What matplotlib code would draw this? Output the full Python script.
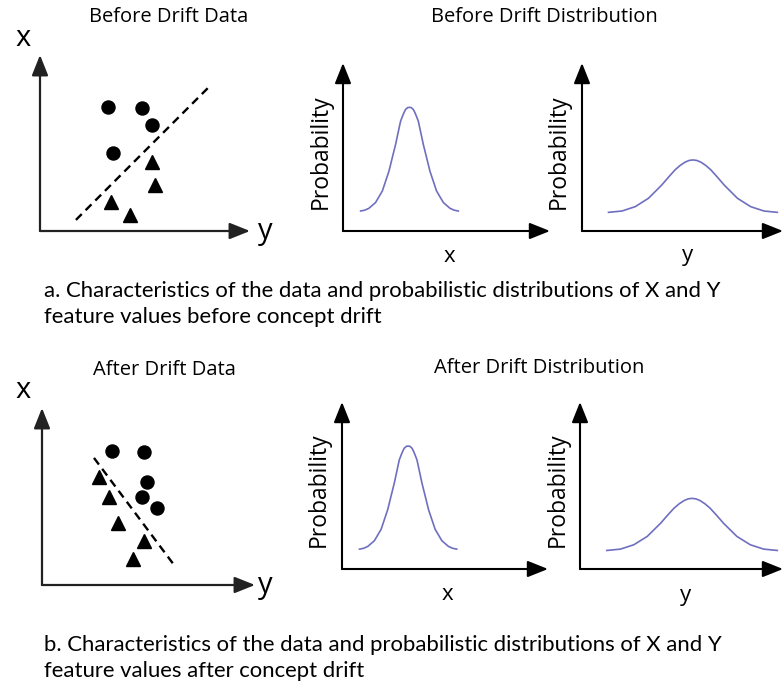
import numpy as np
import matplotlib
matplotlib.use("Agg")
import matplotlib.pyplot as plt

W, H = 783, 681

# scatter panels, axis units 0..100 (100 = arrow tip)
before_circ_x = [32.4, 48.6, 53.3, 34.8]
before_circ_y = [70.5, 69.9, 60.2, 44.3]
before_tri_x = [53.3, 54.8, 33.8, 42.9]
before_tri_y = [39.2, 26.1, 16.5, 9.1]
before_split_x = [17.1, 80.0]
before_split_y = [6.3, 81.3]

after_circ_x = [32.9, 47.9, 49.3, 46.9, 54.0]
after_circ_y = [75.7, 75.1, 58.2, 49.7, 43.5]
after_tri_x = [26.8, 31.5, 35.7, 47.9, 42.7]
after_tri_y = [61.0, 49.7, 35.0, 24.9, 14.7]
after_split_x = [24.4, 62.0]
after_split_y = [71.8, 11.3]

# distribution curves (same before and after)
px_x = [8.5, 10.5, 12.5, 15.7, 19.0, 22.2, 23.8, 25.4, 26.7, 27.8, 28.6,
        29.4, 30.2, 31.3, 32.1, 32.9, 34.0, 34.8, 35.6, 36.4, 37.5, 38.8,
        40.4, 42.0, 45.2, 48.5, 51.7, 53.7, 55.7]
px_y = [11.9, 12.4, 13.5, 16.9, 23.8, 35.6, 43.6, 51.5, 59.0, 65.3, 67.9,
        70.3, 72.3, 73.5, 73.6, 73.5, 72.3, 70.3, 67.9, 65.3, 59.0, 51.5,
        43.6, 35.6, 23.8, 16.9, 13.5, 12.4, 11.9]
py_x = [13.2, 19.9, 26.5, 33.1, 39.7, 43.0, 46.3, 48.8, 51.3, 53.3, 55.2,
        57.1, 59.1, 61.6, 64.1, 67.4, 70.7, 77.3, 83.9, 90.5, 97.2]
py_y = [11.1, 11.9, 14.5, 19.5, 27.4, 32.0, 36.4, 39.0, 41.0, 42.0, 42.3,
        42.0, 41.0, 39.0, 36.4, 32.0, 27.4, 19.5, 14.5, 11.9, 11.1]

caption_a = ["a. Characteristics of the data and probabilistic distributions of X and Y",
             "feature values before concept drift"]
caption_b = ["b. Characteristics of the data and probabilistic distributions of X and Y",
             "feature values after concept drift"]

curve_color = "#6f6fc0"
sans = ["Open Sans", "DejaVu Sans"]
cap_font = ["Lato", "DejaVu Sans"]

fig = plt.figure(figsize=(W / 100, H / 100), dpi=100)


def px_axes(x0, y0, x1, y1):
    # x0,y0 = origin in image pixels, x1 = right arrow tip, y1 = top arrow tip
    ax = fig.add_axes([x0 / W, 1 - y0 / H, (x1 - x0) / W, (y0 - y1) / H])
    ax.set_xlim(0, 100)
    ax.set_ylim(0, 100)
    ax.axis("off")
    return ax


def arrows(ax, color="k", lw=1.5):
    style = "-|>,head_length=1.25,head_width=0.5"
    for tip in [(100, 0), (0, 100)]:
        ax.annotate("", xy=tip, xytext=(0, 0), annotation_clip=False,
                    arrowprops=dict(arrowstyle=style, lw=lw, color=color,
                                    shrinkA=0, shrinkB=0))


def scatter_panel(box, cx, cy, tx, ty, lx, ly):
    ax = px_axes(*box)
    arrows(ax, color="#222222", lw=1.6)
    ax.plot(lx, ly, color="k", lw=1.7, dashes=(3.5, 2.3), clip_on=False)
    ax.plot(cx, cy, "o", color="k", ms=9.4, clip_on=False)
    ax.plot(tx, ty, "^", color="k", ms=10.5, clip_on=False)
    return ax


def dist_panel(box, xs, ys):
    ax = px_axes(*box)
    arrows(ax)
    ax.plot(xs, ys, color=curve_color, lw=1.2, clip_on=False,
            solid_joinstyle="round")
    return ax


scatter_panel((40, 231, 250, 55), before_circ_x, before_circ_y,
              before_tri_x, before_tri_y, before_split_x, before_split_y)
scatter_panel((42, 585, 255, 408), after_circ_x, after_circ_y,
              after_tri_x, after_tri_y, after_split_x, after_split_y)
dist_panel((343, 231, 550, 63), px_x, px_y)
dist_panel((582, 231, 783, 63), py_x, py_y)
dist_panel((342, 569, 548, 402), px_x, px_y)
dist_panel((580, 569, 783, 402), py_x, py_y)


def label(x, y, s, size, rot=0, family=sans, ha="center", va="center"):
    return fig.text(x / W, 1 - y / H, s, fontsize=size, rotation=rot,
                    family=family, ha=ha, va=va)


label(169, 17, "Before Drift Data", 14.5)
label(544, 17, "Before Drift Distribution", 14.5)
label(164, 370, "After Drift Data", 14.5)
label(539, 368, "After Drift Distribution", 14.5)

for yy in (38, 391):
    label(23, yy, "x", 21)
for yy in (231, 586):
    label(265, yy, "y", 21)

for x, y in [(321, 152), (559, 152), (319, 490), (558, 490)]:
    label(x, y, "Probability", 16.5, rot=90)
label(449, 256, "x", 16)
label(687, 256, "y", 16)
label(447, 595, "x", 16)
label(686, 595, "y", 16)

caps = []
for lines, y0 in [(caption_a, 297), (caption_b, 651)]:
    for i, s in enumerate(lines):
        caps.append(label(44, y0 + 26 * i, s, 13.5, family=cap_font,
                          ha="left", va="baseline"))

# first caption line runs from x=44 to x=722 in the picture
r = fig.canvas.get_renderer()
w = caps[0].get_window_extent(r).width
for t in caps:
    t.set_fontsize(min(22, 13.5 * 678 / w))

fig.savefig("out.png", dpi=100)
